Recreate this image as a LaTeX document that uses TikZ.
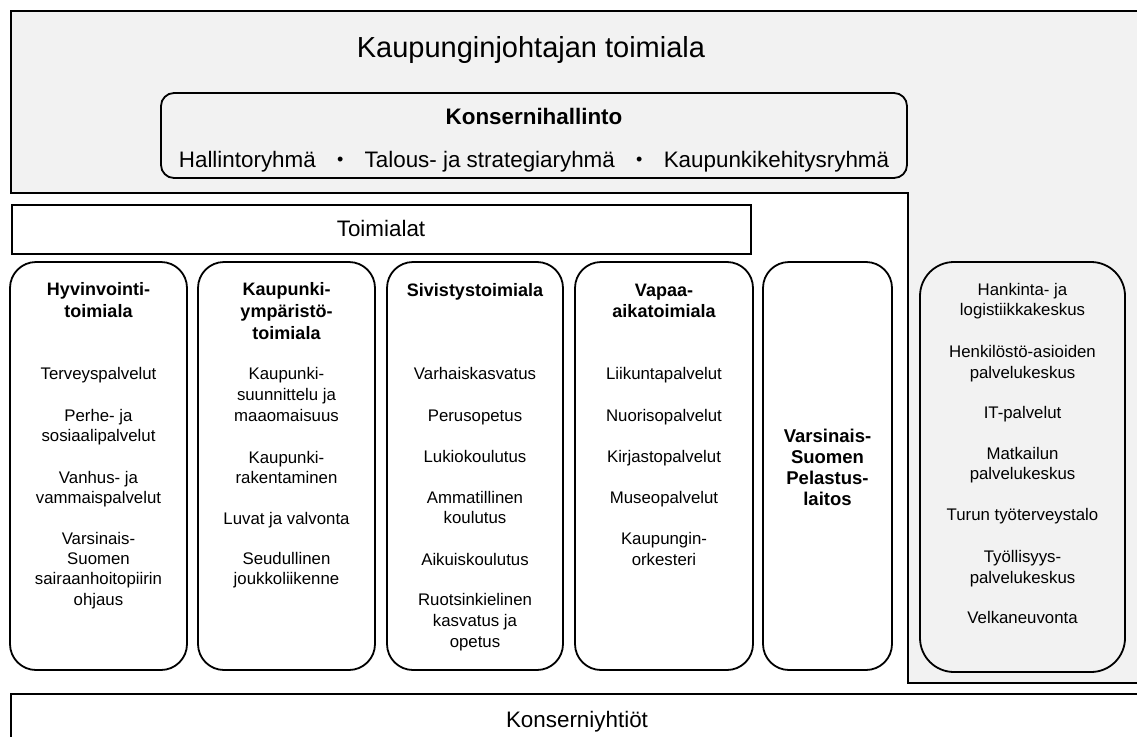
\documentclass[tikz,border=0pt]{standalone}
\usepackage{fontspec}
\setmainfont{Liberation Sans}
\definecolor{panelgray}{HTML}{F2F2F2}
\newcommand{\sepdot}{\hspace{0.95em}\raisebox{1.5pt}{\fontsize{18}{18}\selectfont•}\hspace{0.95em}}
\begin{document}
\begin{tikzpicture}[x=1pt,y=-1pt,
  frame/.style={draw=black,line width=1.8pt},
  colbox/.style={draw=black,line width=1.8pt,rounded corners=26pt,fill=white,inner sep=0pt},
  item/.style={font=\fontsize{16.8}{20}\selectfont,anchor=mid,inner sep=0pt,yshift=-3.5pt},
  head/.style={font=\fontsize{18}{21}\selectfont\bfseries,anchor=mid,inner sep=0pt,yshift=-4.5pt},
  big/.style={font=\fontsize{22.4}{26}\selectfont,inner sep=0pt},
]
\useasboundingbox (0,0) rectangle (1137,736);

% grey panel of the mayor's division, with the service-centre strip on the right
\begin{scope}
  \clip (0,0) rectangle (1137,736);
  \draw[frame,fill=panelgray] (11,11) -- (1160,11) -- (1160,683) -- (908,683)
        -- (908,193) -- (11,193) -- cycle;
  \draw[frame,fill=white] (11,694) rectangle (1160,760);
\end{scope}

% top texts
\node[font=\fontsize{29}{34}\selectfont,anchor=base,inner sep=0pt] (title) at (531,57) {Kaupunginjohtajan toimiala};
\node[frame,fill=panelgray,rounded corners=13pt,minimum width=746pt,minimum height=85pt] (kh) at (534,135.5) {};
\node[big,font=\fontsize{22.4}{26}\selectfont\bfseries,anchor=base] (khtitle) at (534,124) {Konsernihallinto};
\node[big,anchor=base] (khgroups) at (534,167)
  {Hallintoryhmä\sepdot Talous- ja strategiaryhmä\sepdot Kaupunkikehitysryhmä};

% Toimialat header bar
\node[frame,fill=white,minimum width=739pt,minimum height=49pt,inner sep=0pt] (toim) at (381.5,229.5) {};
\node[big,anchor=mid,yshift=-5pt] (toimtxt) at (381,229) {Toimialat};

% Konserniyhtiöt
\node[big,anchor=base] (yht) at (577,727) {Konserniyhtiöt};

% division columns
\node[colbox,minimum width=177pt,minimum height=408pt] (c1) at (98.5,466) {};
\node[colbox,minimum width=177pt,minimum height=408pt] (c2) at (286.5,466) {};
\node[colbox,minimum width=176pt,minimum height=408pt] (c3) at (475,466) {};
\node[colbox,minimum width=178pt,minimum height=408pt] (c4) at (664,466) {};
\node[colbox,minimum width=129pt,minimum height=408pt] (c5) at (827.5,466) {};
\node[colbox,fill=panelgray,rounded corners=34pt,minimum width=205pt,minimum height=410pt] (c6) at (1022.5,467) {};

% column 1
\foreach \yy/\txt [count=\i] in {288/Hyvinvointi-,310/toimiala}
  \node[head] (c1h\i) at (98.5,\yy) {\txt};
\foreach \yy/\txt [count=\i] in {373/Terveyspalvelut,415/Perhe- ja,435/sosiaalipalvelut,
    477/Vanhus- ja,497/vammaispalvelut,538/Varsinais-,558/Suomen,578/sairaanhoitopiirin,599/ohjaus}
  \node[item] (c1t\i) at (98.5,\yy) {\txt};

% column 2
\foreach \yy/\txt [count=\i] in {288/Kaupunki-,310/ympäristö-,332/toimiala}
  \node[head] (c2h\i) at (286.5,\yy) {\txt};
\foreach \yy/\txt [count=\i] in {373/Kaupunki-,394/suunnittelu ja,415/maaomaisuus,
    457/Kaupunki-,477/rakentaminen,518/Luvat ja valvonta,558/Seudullinen,578/joukkoliikenne}
  \node[item] (c2t\i) at (286.5,\yy) {\txt};

% column 3
\node[head] (c3h1) at (475,289) {Sivistystoimiala};
\foreach \yy/\txt [count=\i] in {373/Varhaiskasvatus,415/Perusopetus,456/Lukiokoulutus,
    497/Ammatillinen,517/koulutus,559/Aikuiskoulutus,599/Ruotsinkielinen,620/kasvatus ja,641/opetus}
  \node[item] (c3t\i) at (475,\yy) {\txt};

% column 4
\foreach \yy/\txt [count=\i] in {289/Vapaa-,310/aikatoimiala}
  \node[head] (c4h\i) at (664,\yy) {\txt};
\foreach \yy/\txt [count=\i] in {373/Liikuntapalvelut,415/Nuorisopalvelut,456/Kirjastopalvelut,
    497/Museopalvelut,538/Kaupungin-,559/orkesteri}
  \node[item] (c4t\i) at (664,\yy) {\txt};

% column 5
\foreach \yy/\txt [count=\i] in {435/Varsinais-,456/Suomen,477/Pelastus-,498/laitos}
  \node[head,font=\fontsize{18.5}{21}\selectfont\bfseries] (c5h\i) at (827.5,\yy) {\txt};

% service centres
\foreach \yy/\txt [count=\i] in {289/Hankinta- ja,309/logistiikkakeskus,351/Henkilöstö-asioiden,
    372/palvelukeskus,412/IT-palvelut,453/Matkailun,473/palvelukeskus,514/Turun työterveystalo,
    556/Työllisyys-,577/palvelukeskus,617/Velkaneuvonta}
  \node[item] (c6t\i) at (1022.5,\yy) {\txt};
\end{tikzpicture}
\end{document}
